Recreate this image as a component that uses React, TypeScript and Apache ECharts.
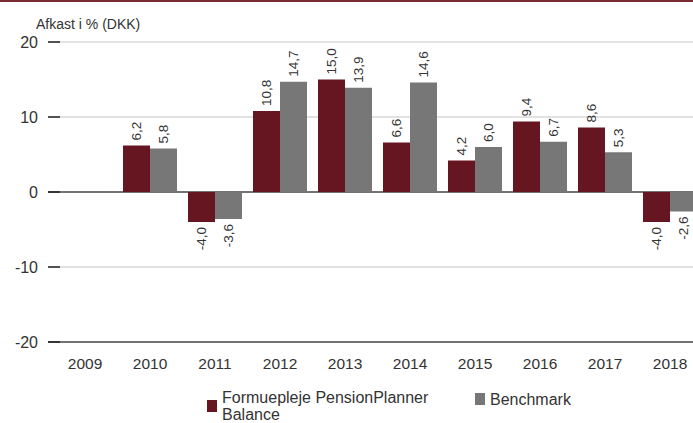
import React, { useEffect, useRef } from "react";
import * as echarts from "echarts";

const years = ["2009", "2010", "2011", "2012", "2013", "2014", "2015", "2016", "2017", "2018"];
const fundValues = [null, 6.2, -4.0, 10.8, 15.0, 6.6, 4.2, 9.4, 8.6, -4.0];
const benchValues = [null, 5.8, -3.6, 14.7, 13.9, 14.6, 6.0, 6.7, 5.3, -2.6];
const fundName = "Formuepleje PensionPlanner\nBalance";
const benchName = "Benchmark";
const yTitle = "Afkast i % (DKK)";

const RED = "#661620";
const GRAY = "#777777";
const SANS = "'Liberation Sans', Arial, sans-serif";

const fmt = (v: number) => v.toFixed(1).replace(".", ",");

function buildData(values: (number | null)[]) {
  return values.map((v) => {
    if (v === null) return null;
    if (v < 0) {
      return {
        value: v,
        label: { position: "bottom", align: "right" },
      };
    }
    return { value: v };
  });
}

export default function App() {
  const ref = useRef<HTMLDivElement>(null);
  useEffect(() => {
    if (!ref.current) return;
    const chart = echarts.init(ref.current, null, { renderer: "svg" });
    const labelCfg = {
      show: true,
      position: "top",
      rotate: 90,
      align: "left",
      verticalAlign: "middle",
      distance: 5,
      fontSize: 13.5,
      fontFamily: SANS,
      color: "#333",
      formatter: (p: any) => fmt(p.value),
    };
    const legendText = { fontSize: 16, color: "#333", fontFamily: SANS, lineHeight: 17 };
    chart.setOption({
      animation: false,
      textStyle: { fontFamily: SANS },
      graphic: [
        {
          type: "rect",
          left: 0,
          top: 0,
          shape: { width: 693, height: 2 },
          style: { fill: "#7b2a31" },
        },
      ],
      title: {
        text: yTitle,
        left: 31,
        top: 12,
        textStyle: { fontSize: 14, fontWeight: "normal", color: "#333", fontFamily: SANS },
      },
      legend: [
        {
          left: 202,
          top: 384,
          itemWidth: 10,
          itemHeight: 12,
          icon: "rect",
          textStyle: legendText,
          data: [fundName],
        },
        {
          left: 470,
          top: 385.5,
          itemWidth: 10,
          itemHeight: 12,
          icon: "rect",
          textStyle: legendText,
          data: [benchName],
        },
      ],
      grid: [
        { left: 48, right: 0, top: 42, bottom: 81, outerBoundsMode: "none", containLabel: false },
        { left: 52.5, width: 650, top: 42, bottom: 81, outerBoundsMode: "none", containLabel: false },
      ],
      xAxis: [
        { gridIndex: 0, type: "value", min: 0, max: 1, show: false },
        {
          gridIndex: 1,
          type: "category",
          data: years,
          axisLine: { show: false, onZero: false },
          axisTick: { show: false },
          axisLabel: { fontSize: 15.5, color: "#333", margin: 13, fontFamily: SANS },
        },
      ],
      yAxis: [
        {
          gridIndex: 0,
          type: "value",
          min: -20,
          max: 20,
          interval: 10,
          axisLine: { show: false },
          axisTick: { show: true, inside: true, length: 12, lineStyle: { color: "#222", width: 1.5 } },
          axisLabel: { fontSize: 16, color: "#333", margin: 10, fontFamily: SANS },
          splitLine: {
            show: true,
            lineStyle: { color: ["#444", "#d9d9d9", "#444", "#d9d9d9", "#d9d9d9"], width: 1.5 },
          },
        },
        { gridIndex: 1, type: "value", min: -20, max: 20, interval: 10, show: false, splitLine: { show: false } },
      ],
      series: [
        {
          name: fundName,
          type: "bar",
          xAxisIndex: 1,
          yAxisIndex: 1,
          data: buildData(fundValues),
          barWidth: 27,
          barGap: "0%",
          itemStyle: { color: RED },
          label: labelCfg,
        },
        {
          name: benchName,
          type: "bar",
          xAxisIndex: 1,
          yAxisIndex: 1,
          data: buildData(benchValues),
          barWidth: 27,
          barGap: "0%",
          itemStyle: { color: GRAY },
          label: labelCfg,
        },
      ],
    });
    return () => chart.dispose();
  }, []);
  return <div ref={ref} style={{ width: 693, height: 423, position: "absolute", left: 0, top: 0 }} />;
}
